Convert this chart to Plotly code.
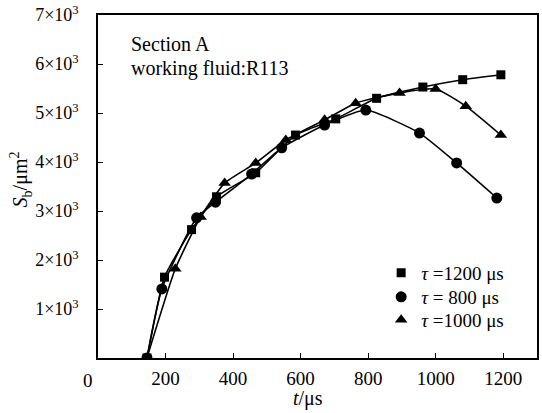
import plotly.graph_objects as go

# data
t_1200 = [145, 197, 277, 351, 467, 585, 704, 825, 962, 1080, 1193]
s_1200 = [0, 1650, 2620, 3290, 3780, 4550, 4880, 5300, 5530, 5680, 5780]

t_800 = [145, 189, 292, 348, 455, 544, 671, 793, 952, 1062, 1181]
s_800 = [0, 1410, 2860, 3180, 3755, 4290, 4755, 5060, 4590, 3980, 3265]

t_1000 = [145, 229, 304, 375, 467, 556, 671, 763, 893, 1000, 1089, 1193]
s_1000 = [0, 1820, 2880, 3570, 3980, 4450, 4860, 5200, 5410, 5490, 5140, 4550]

names = ["<i>τ</i> =1200 μs", "<i>τ</i> = 800 μs", "<i>τ</i> =1000 μs"]
symbols = ["square", "circle", "triangle-up"]
sizes = [9, 11, 11]

x_ticks = [200, 400, 600, 800, 1000, 1200]
origin_label = "0"
y_ticks = [1000, 2000, 3000, 4000, 5000, 6000, 7000]
y_ticktext = ["1×10<sup>3</sup>", "2×10<sup>3</sup>", "3×10<sup>3</sup>", "4×10<sup>3</sup>",
              "5×10<sup>3</sup>", "6×10<sup>3</sup>", "7×10<sup>3</sup>"]

FONT = "Liberation Serif"
fig = go.Figure()
series = [(t_1200, s_1200), (t_800, s_800), (t_1000, s_1000)]
legend_ids = ["legend", "legend2", "legend3"]
legend_rows = [0.248, 0.178, 0.111]
for (tx, sy), nm, sym, sz in zip(series, names, symbols, sizes):
    fig.add_trace(go.Scatter(x=tx, y=sy, mode="lines", line=dict(color="black", width=1.6, shape="spline", smoothing=0.5),
                             showlegend=False, hoverinfo="skip"))
for (tx, sy), nm, sym, sz, lg in zip(series, names, symbols, sizes, legend_ids):
    fig.add_trace(go.Scatter(x=tx, y=sy, mode="markers", name=nm, legend=lg,
                             marker=dict(symbol=sym, size=sz, color="black")))

legend_layout = {}
for lg, ry in zip(legend_ids, legend_rows):
    legend_layout[lg] = dict(x=0.645, y=ry, xanchor="left", yanchor="middle", bgcolor="rgba(0,0,0,0)",
                             font=dict(size=19))

fig.update_layout(
    width=542, height=413,
    margin=dict(l=98, r=5, t=15, b=55, autoexpand=False),
    paper_bgcolor="white", plot_bgcolor="white",
    font=dict(family=FONT, size=19, color="black"),
    annotations=[
        dict(text="Section A", x=0.07, y=0.915, xref="paper", yref="paper", xanchor="left", yanchor="middle",
             showarrow=False, font=dict(size=20)),
        dict(text="working fluid:R113", x=0.07, y=0.845, xref="paper", yref="paper", xanchor="left", yanchor="middle",
             showarrow=False, font=dict(size=20)),
        dict(text=origin_label, x=-0.023, y=-0.067, xref="paper", yref="paper", xanchor="center", yanchor="middle",
             showarrow=False, font=dict(size=19)),
        dict(text="<i>t</i>/μs", x=0.478, y=-0.118, xref="paper", yref="paper", xanchor="center", yanchor="middle",
             showarrow=False, font=dict(size=20)),
        dict(text="<i>S</i><sub>b</sub>/μm<sup>2</sup>", x=-0.176, y=0.52, xref="paper", yref="paper",
             xanchor="center", yanchor="middle", textangle=-90, showarrow=False, font=dict(size=20)),
    ],
    **legend_layout,
)
fig.update_xaxes(range=[0, 1300], tickvals=x_ticks, ticks="inside", ticklen=5, tickcolor="black",
                 showline=True, linecolor="black", linewidth=1.5, mirror=True, showgrid=False, zeroline=False,
                 automargin=False, ticklabelstandoff=2, tickfont=dict(size=19))
fig.update_yaxes(range=[0, 7000], tickvals=y_ticks, ticktext=y_ticktext, ticks="inside", ticklen=5, tickcolor="black",
                 showline=True, linecolor="black", linewidth=1.5, mirror=True, showgrid=False, zeroline=False,
                 automargin=False, ticklabelstandoff=14, tickfont=dict(size=18))
fig.write_html("out.html", config={"displayModeBar": False},
               post_script="document.body.style.margin='0';document.body.style.overflow='hidden';")
